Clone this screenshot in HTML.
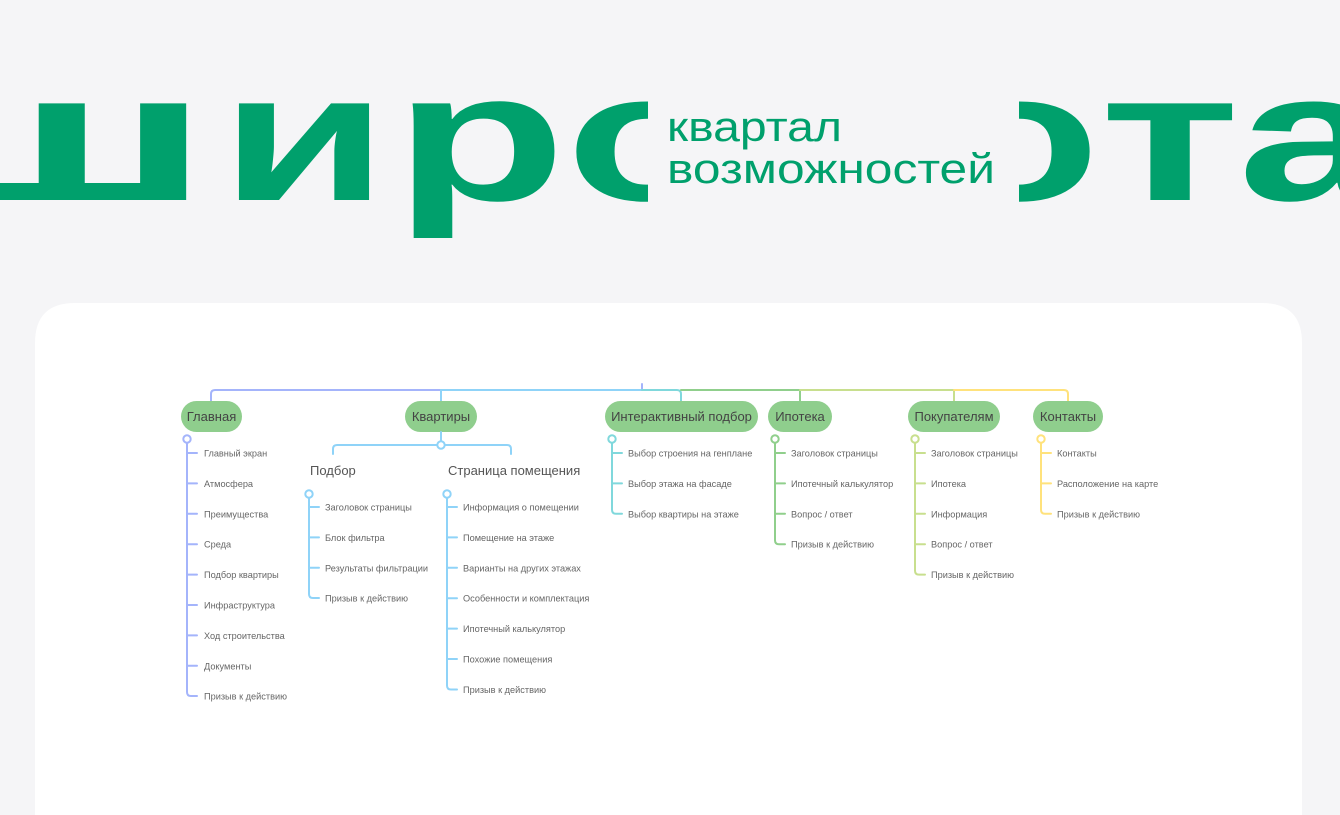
<!DOCTYPE html>
<html><head><meta charset="utf-8"><style>
html,body{margin:0;padding:0;}
body{width:1340px;height:815px;background:#f5f5f7;overflow:hidden;position:relative;font-family:"Liberation Sans","DejaVu Sans",sans-serif;}
svg{position:absolute;left:0;top:0;}
</style></head><body>
<svg width="1340" height="815" viewBox="0 0 1340 815">
<defs>
<clipPath id="cl"><rect x="0" y="0" width="648" height="300"/></clipPath>
<clipPath id="cr"><rect x="1019" y="0" width="400" height="300"/></clipPath>
</defs>
<g fill="#00a06c" font-family="Liberation Sans, sans-serif" font-weight="bold" font-size="183">
<g clip-path="url(#cl)">
<text x="-88" y="200" textLength="300" lengthAdjust="spacingAndGlyphs">ш</text>
<text x="220" y="200" textLength="168" lengthAdjust="spacingAndGlyphs">и</text>
<text x="394" y="200" textLength="172" lengthAdjust="spacingAndGlyphs">р</text>
<text x="566" y="200" textLength="162" lengthAdjust="spacingAndGlyphs">о</text>
</g>
<g clip-path="url(#cr)">
<text x="938" y="200" textLength="162" lengthAdjust="spacingAndGlyphs">о</text>
</g>
<text x="1100" y="200" textLength="140" lengthAdjust="spacingAndGlyphs">т</text>
<text x="1238" y="200" textLength="150" lengthAdjust="spacingAndGlyphs">а</text>
</g>
<g fill="#00a06c" font-family="Liberation Sans, sans-serif" font-size="42">
<text x="667" y="141" textLength="175" lengthAdjust="spacingAndGlyphs">квартал</text>
<text x="667" y="183" textLength="328" lengthAdjust="spacingAndGlyphs">возможностей</text>
</g>
<path d="M35 815 V343 Q35 303 75 303 H1262 Q1302 303 1302 343 V815 Z" fill="#ffffff"/>

<g fill="none" stroke-width="2" stroke-linecap="round">
<path d="M642 384 V390" stroke="#a4b4fb"/>
<path d="M211 402 V394 Q211 390 215 390 H441" stroke="#a4b4fb"/>
<path d="M441 402 V390 H642" stroke="#8fd3f8"/>
<path d="M642 390 H677 Q681 390 681 394 V402" stroke="#80d8dc"/>
<path d="M681 390 H800 V402" stroke="#90cf8c"/>
<path d="M800 390 H954 V402" stroke="#c8df8e"/>
<path d="M954 390 H1064 Q1068 390 1068 394 V402" stroke="#ffe27c"/>
</g>

<g fill="#8fce8d">
<rect x="181" y="401" width="61" height="31" rx="15.5"/>
<rect x="405" y="401" width="72" height="31" rx="15.5"/>
<rect x="605" y="401" width="153" height="31" rx="15.5"/>
<rect x="768" y="401" width="64" height="31" rx="15.5"/>
<rect x="908" y="401" width="92" height="31" rx="15.5"/>
<rect x="1033" y="401" width="70" height="31" rx="15.5"/>
</g>
<g fill="#444" font-size="13" text-anchor="middle" font-family="Liberation Sans, sans-serif">
<text x="211.5" y="421">Главная</text>
<text x="441" y="421">Квартиры</text>
<text x="681.5" y="421">Интерактивный подбор</text>
<text x="800" y="421">Ипотека</text>
<text x="954" y="421">Покупателям</text>
<text x="1068" y="421">Контакты</text>
</g>

<g fill="none" stroke-width="2" stroke-linecap="round">
<g stroke="#a4b4fb">
<circle cx="187" cy="439" r="3.7" fill="#fff"/>
<path d="M187 443 V692 Q187 696 191 696 H197"/>
<path d="M187 453 H197 M187 483.4 H197 M187 513.8 H197 M187 544.2 H197 M187 574.6 H197 M187 605 H197 M187 635.4 H197 M187 665.8 H197"/>
</g>
<g stroke="#8fd3f8">
<path d="M441 432 V441"/>
<circle cx="441" cy="445" r="3.7" fill="#fff"/>
<path d="M437 445 H337 Q333 445 333 449 V454 M445 445 H507 Q511 445 511 449 V454"/>
<circle cx="309" cy="494" r="3.7" fill="#fff"/>
<path d="M309 498 V594 Q309 598 313 598 H319 M309 507 H319 M309 537.4 H319 M309 567.8 H319"/>
<circle cx="447" cy="494" r="3.7" fill="#fff"/>
<path d="M447 498 V685.5 Q447 689.5 451 689.5 H457 M447 507 H457 M447 537.4 H457 M447 567.8 H457 M447 598.2 H457 M447 628.6 H457 M447 659 H457"/>
</g>
<g stroke="#80d8dc">
<circle cx="612" cy="439" r="3.7" fill="#fff"/>
<path d="M612 443 V509.8 Q612 513.8 616 513.8 H622 M612 453 H622 M612 483.4 H622"/>
</g>
<g stroke="#90cf8c">
<circle cx="775" cy="439" r="3.7" fill="#fff"/>
<path d="M775 443 V540.2 Q775 544.2 779 544.2 H785 M775 453 H785 M775 483.4 H785 M775 513.8 H785"/>
</g>
<g stroke="#c8df8e">
<circle cx="915" cy="439" r="3.7" fill="#fff"/>
<path d="M915 443 V570.6 Q915 574.6 919 574.6 H925 M915 453 H925 M915 483.4 H925 M915 513.8 H925 M915 544.2 H925"/>
</g>
<g stroke="#ffe27c">
<circle cx="1041" cy="439" r="3.7" fill="#fff"/>
<path d="M1041 443 V509.8 Q1041 513.8 1045 513.8 H1051 M1041 453 H1051 M1041 483.4 H1051"/>
</g>
</g>

<g fill="#555" font-size="13" font-family="Liberation Sans, sans-serif">
<text x="310" y="475">Подбор</text>
<text x="448" y="475">Страница помещения</text>
</g>
<g fill="#666" font-size="9.2" font-family="Liberation Sans, sans-serif">
<text x="204" y="456.5">Главный экран</text>
<text x="204" y="487">Атмосфера</text>
<text x="204" y="517.3">Преимущества</text>
<text x="204" y="547.7">Среда</text>
<text x="204" y="578.1">Подбор квартиры</text>
<text x="204" y="608.5">Инфраструктура</text>
<text x="204" y="638.9">Ход строительства</text>
<text x="204" y="669.3">Документы</text>
<text x="204" y="699.7">Призыв к действию</text>

<text x="325" y="510.5">Заголовок страницы</text>
<text x="325" y="540.9">Блок фильтра</text>
<text x="325" y="571.3">Результаты фильтрации</text>
<text x="325" y="601.7">Призыв к действию</text>

<text x="463" y="510.5">Информация о помещении</text>
<text x="463" y="540.9">Помещение на этаже</text>
<text x="463" y="571.3">Варианты на других этажах</text>
<text x="463" y="601.7">Особенности и комплектация</text>
<text x="463" y="632.1">Ипотечный калькулятор</text>
<text x="463" y="662.5">Похожие помещения</text>
<text x="463" y="693">Призыв к действию</text>

<text x="628" y="456.5">Выбор строения на генплане</text>
<text x="628" y="487">Выбор этажа на фасаде</text>
<text x="628" y="517.3">Выбор квартиры на этаже</text>

<text x="791" y="456.5">Заголовок страницы</text>
<text x="791" y="487">Ипотечный калькулятор</text>
<text x="791" y="517.3">Вопрос / ответ</text>
<text x="791" y="547.7">Призыв к действию</text>

<text x="931" y="456.5">Заголовок страницы</text>
<text x="931" y="487">Ипотека</text>
<text x="931" y="517.3">Информация</text>
<text x="931" y="547.7">Вопрос / ответ</text>
<text x="931" y="578.1">Призыв к действию</text>

<text x="1057" y="456.5">Контакты</text>
<text x="1057" y="487">Расположение на карте</text>
<text x="1057" y="517.3">Призыв к действию</text>
</g>
</svg>
</body></html>
